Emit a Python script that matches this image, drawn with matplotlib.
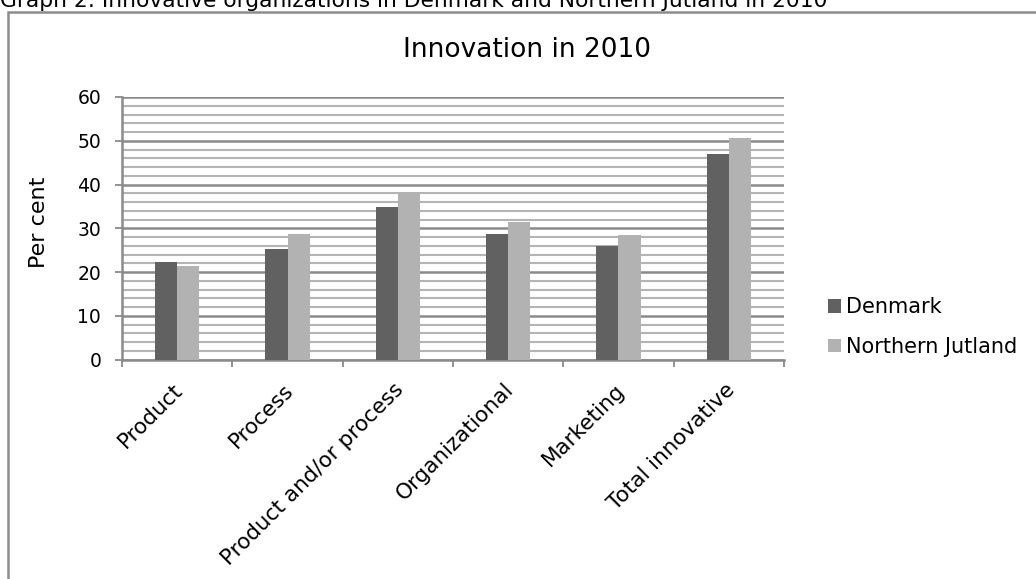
import numpy as np
import matplotlib
matplotlib.use("Agg")
import matplotlib.pyplot as plt
from matplotlib.patches import Rectangle

# ---------- data ---------- #
categories = ["Product", "Process", "Product and/or process",
              "Organizational", "Marketing", "Total innovative"]
denmark = [22.4, 25.2, 34.9, 28.8, 25.9, 47.0]
northern_jutland = [21.3, 28.8, 38.2, 31.4, 28.4, 50.6]
series_names = ["Denmark", "Northern Jutland"]
yticks = [0, 10, 20, 30, 40, 50, 60]

plt.rcParams["font.family"] = ["DejaVu Sans"]
dark, light, axis_c = "#616161", "#b2b2b2", "#8a8a8a"

W, H = 1036, 579
fig = plt.figure(figsize=(W/100, H/100), dpi=100)
ax = fig.add_axes([122/W, 1 - 359.5/H, 662/W, 262.5/H])

x = np.arange(len(categories))
w = 0.2
ax.bar(x - w/2, denmark, w, color=dark, zorder=3, label=series_names[0])
ax.bar(x + w/2, northern_jutland, w, color=light, zorder=3, label=series_names[1])

ax.set_xlim(-0.5, len(categories) - 0.5)
ax.set_ylim(0, 60)
ax.set_yticks(yticks)
ax.set_yticks(np.arange(0, 61, 2), minor=True)
ax.yaxis.grid(True, which="major", color="#8a8a8a", lw=1.8, zorder=0)
ax.yaxis.grid(True, which="minor", color="#b4b4b4", lw=1.5, zorder=0)
ax.tick_params(axis="y", which="major", length=5, width=1.3, color=axis_c,
               labelsize=13.5, pad=10)
ax.tick_params(axis="y", which="minor", length=0)

# category ticks sit between groups
ax.set_xticks(np.arange(-0.5, len(categories)))
ax.set_xticklabels([])
ax.tick_params(axis="x", length=5, color=axis_c, width=1.3)
for xi, lab in zip(x, categories):
    ax.text(xi - 0.04, -4.6, lab, rotation=45, ha="right", va="top",
            rotation_mode="anchor", fontsize=15.5)

for s in ["top", "right"]:
    ax.spines[s].set_visible(False)
for s in ["left", "bottom"]:
    ax.spines[s].set_color(axis_c)
    ax.spines[s].set_linewidth(1.8)

fig.text(39/W, 1 - 222/H, "Per cent", rotation=90, ha="center", va="center",
         fontsize=16)

# legend
ax.legend(loc="center left", bbox_to_anchor=(818/W, 1 - 327/H),
          bbox_transform=fig.transFigure, frameon=False,
          fontsize=15, handlelength=0.62, handleheight=0.62,
          handletextpad=0.22, labelspacing=0.95, borderpad=0)

# title and caption
fig.text(527/W, 1 - 50/H, "Innovation in 2010", ha="center", va="center",
         fontsize=19)
fig.text(0.0, 1 - 7/H,
         "Graph 2: Innovative organizations in Denmark and Northern Jutland in 2010",
         ha="left", va="baseline", fontsize=15.7)

# chart-area frame
fig.patches.append(Rectangle((8/W, -0.05), 1.1, 1.05 - 12/H,
                             transform=fig.transFigure, fill=False,
                             edgecolor="#8c8c8c", lw=1.8))

fig.savefig("out.png", dpi=100)
